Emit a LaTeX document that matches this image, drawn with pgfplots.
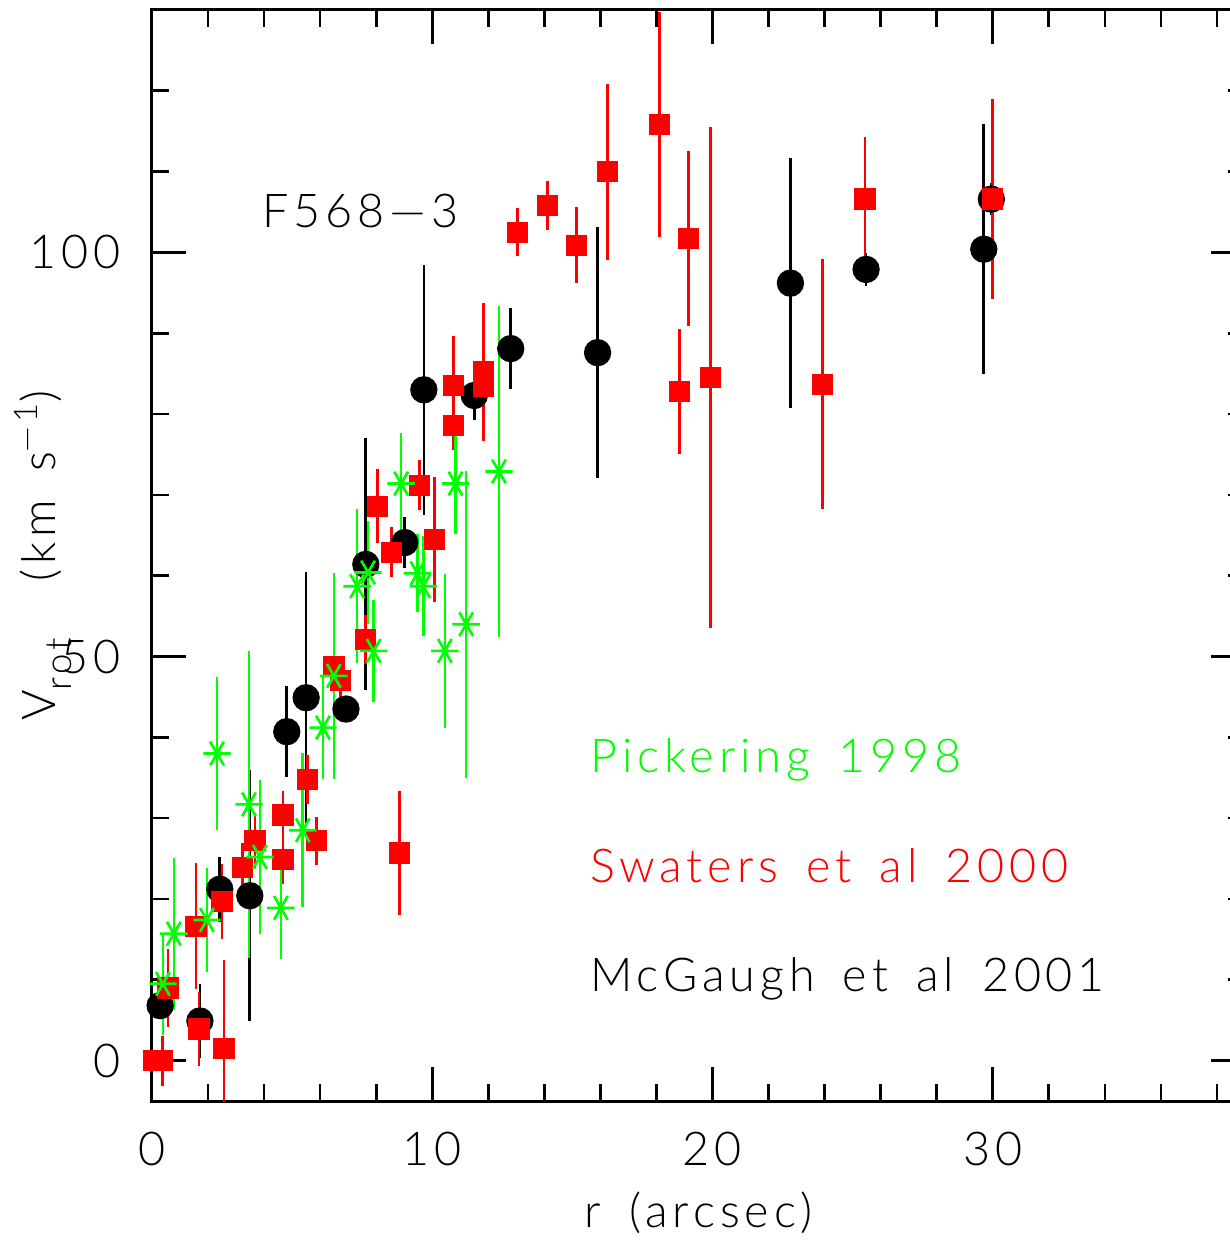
\documentclass[border=0pt]{standalone}
\usepackage{fontspec}
\setmainfont{Lato Light}[LetterSpace=10.5,WordSpace=1.6]
\usepackage{pgfplots}
\usepackage{pgfplotstable}
\pgfplotsset{compat=1.18}

% r (arcsec), V_rot (km/s), error (km/s)
\pgfplotstableread{
r v e
0.29 6.8 0
1.71 4.9 4.6
2.42 21.2 4
3.49 20.4 15.5
4.81 40.7 5.6
5.50 44.9 15.5
6.92 43.5 1
7.63 61.4 15.6
9.02 64.1 3.2
9.70 83.0 15.5
11.50 82.3 3
12.80 88.1 5
15.90 87.6 15.5
22.78 96.2 15.5
25.48 97.9 2
29.68 100.4 15.5
29.95 106.6 2
}\mcgaugh

\pgfplotstableread{
r v e
0.05 0 0
0.37 0 3.1
0.57 9.0 4.8
1.57 16.6 7.8
1.68 3.9 4.6
2.50 19.7 4.6
2.57 1.5 11
3.24 23.9 3
3.67 27.2 3.4
4.67 30.4 3
4.67 24.9 3
5.56 34.8 3
5.88 27.2 3
6.49 48.8 3
6.72 47.0 3
7.63 52.1 3
8.04 68.6 4.6
8.54 62.9 3.1
8.84 25.7 7.7
9.55 71.2 3.1
10.08 64.5 7.7
10.77 83.5 6.2
10.77 78.6 3.1
11.84 85.2 8.5
11.84 83.4 3
13.05 102.5 3
14.12 105.8 3
15.15 100.9 4.7
16.26 110.0 10.9
18.11 115.8 13.9
18.82 82.8 7.7
19.14 101.7 10.8
19.93 84.5 31
23.92 83.7 15.5
25.44 106.6 7.7
29.98 106.6 12.4
}\swaters

\pgfplotstableread{
r v e
0.39 9.5 6.3
0.78 15.7 9.4
1.96 17.4 6.4
2.32 38.0 9.5
3.46 31.7 19
3.85 25.2 9.5
4.60 18.9 6.3
5.38 28.5 9.5
6.10 41.2 6.3
6.49 47.6 12.7
7.32 58.7 9.5
7.71 60.4 6.4
7.91 50.7 6.3
8.89 71.4 6.3
9.47 60.3 4.8
9.68 58.7 6.2
10.45 50.7 9.5
10.83 71.4 6.3
11.21 54.0 19
12.38 72.9 20.5
}\pickering

\begin{document}
\fontsize{14pt}{16pt}\selectfont
\begin{tikzpicture}
\begin{axis}[
  name=ax,
  scale only axis,
  width=327.9pt, height=327.3pt,
  xmin=0, xmax=39, ymin=-5, ymax=130,
  axis line style={line width=0.9pt},
  xtick={0,10,20,30},
  minor xtick={2,4,6,8,12,14,16,18,22,24,26,28,32,34,36,38},
  ytick={0,50,100},
  minor ytick={10,20,30,40,60,70,80,90,110,120},
  major tick length=10.2pt, minor tick length=5.1pt,
  tick align=inside,
  tick style={line width=0.8pt, black},
  /pgf/number format/assume math mode=true,
  tick label style={font=\fontsize{14pt}{16pt}\selectfont},
  yticklabel style={xshift=-4.5pt},
  xticklabel style={yshift=-4.5pt},
  xlabel={r (arcsec)},
  xlabel style={at={(axis description cs:0.5,-0.1164)}, anchor=base},
  ylabel={V\raisebox{-5pt}{\fontsize{11pt}{12pt}\selectfont rot}\ \ (km s\textsuperscript{—1})},
  ylabel style={at={(axis description cs:-0.0887,0.5)}, anchor=base},
]
% McGaugh et al 2001
\addplot[only marks, mark=*, mark size=3.9pt,
  mark options={draw=black, fill=black},
  error bars/.cd, y dir=both, y explicit, error mark=none,
  error bar style={black, line width=0.8pt}]
  table[x=r, y=v, y error=e] {\mcgaugh};
% Swaters et al 2000
\addplot[only marks, mark=square*, mark size=3pt,
  mark options={draw=red, fill=red},
  error bars/.cd, y dir=both, y explicit, error mark=none,
  error bar style={red, line width=0.8pt}]
  table[x=r, y=v, y error=e] {\swaters};
% Pickering 1998
\addplot[only marks, mark=asterisk, mark size=4.1pt,
  mark options={draw=green, line width=0.8pt, rotate=90},
  error bars/.cd, y dir=both, y explicit, error mark=none,
  error bar style={green, line width=0.8pt}]
  table[x=r, y=v, y error=e] {\pickering};

\begin{scope}[every node/.style={inner sep=0pt, anchor=base west}]
\node[text=black] at (axis cs:3.92,103.1) {F568—3};
\node[text=green] at (axis cs:15.62,35.6) {Pickering 1998};
\node[text=red] at (axis cs:15.62,22.0) {Swaters et al 2000};
\node[text=black] at (axis cs:15.62,8.5) {McGaugh et al 2001};
\end{scope}
\end{axis}
\pgfresetboundingbox
\useasboundingbox (ax.south west) ++(-45.6pt,-42pt) rectangle ++(369pt,372.3pt);
\end{tikzpicture}
\end{document}
